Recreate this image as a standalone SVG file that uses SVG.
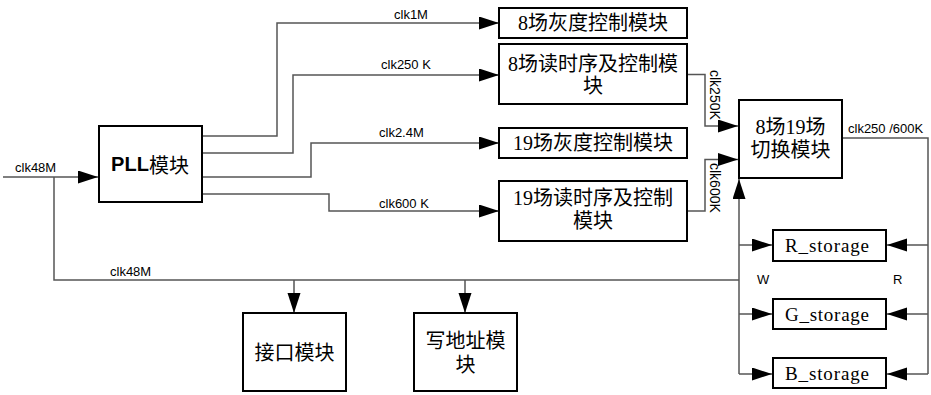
<svg xmlns="http://www.w3.org/2000/svg" width="931" height="395" viewBox="0 0 931 395">
<defs>
<marker id="arr" markerUnits="userSpaceOnUse" markerWidth="21" markerHeight="14" refX="20" refY="6.5" orient="auto">
<path d="M0,0 L20,6.5 L0,13 z" fill="#000"/>
</marker>
<style>
.box{fill:#fff;stroke:#000;stroke-width:2}
.ln{fill:none;stroke:#555;stroke-width:1.5}
.a{marker-end:url(#arr)}
.lbl{font-family:"Liberation Sans",Arial,sans-serif;font-size:13px;fill:#000}
.cn{font-family:"Liberation Serif","Noto Sans CJK SC",serif;font-size:20px;fill:#000;text-anchor:middle;dominant-baseline:central}
.st{font-family:"Liberation Serif",serif;font-size:19px;fill:#000}
</style>
</defs>
<rect width="931" height="395" fill="#fff"/>
<g id="connectors">
<path class="ln a" d="M3,177 H98"/>
<path class="ln a" d="M202,136 H277 V23 H499"/>
<path class="ln a" d="M202,153 H293 V75 H499"/>
<path class="ln a" d="M202,177 H311 V143 H499"/>
<path class="ln a" d="M202,194 H329 V211 H499"/>
<path class="ln a" d="M687,74.5 H705 V126 H738"/>
<path class="ln a" d="M687,211 H705 V159.5 H738"/>
<path class="ln" d="M54,177 V280 H739"/>
<path class="ln a" d="M294,280 V313"/>
<path class="ln a" d="M465,280 V313"/>
<path class="ln a" d="M739,374 V179"/>
<path class="ln a" d="M739,245 H772"/>
<path class="ln a" d="M739,314 H772"/>
<path class="ln a" d="M739,374 H772"/>
<path class="ln" d="M842,138 H928 V374"/>
<path class="ln a" d="M928,245 H887"/>
<path class="ln a" d="M928,314 H887"/>
<path class="ln a" d="M928,374 H887"/>
<text class="lbl" x="15" y="172">clk48M</text>
<text class="lbl" x="394" y="19">clk1M</text>
<text class="lbl" x="381" y="69">clk250 K</text>
<text class="lbl" x="379" y="137">clk2.4M</text>
<text class="lbl" x="379" y="208">clk600 K</text>
<text class="lbl" x="110" y="276">clk48M</text>
<text class="lbl" x="848" y="133">clk250 /600K</text>
<text class="lbl" x="757" y="284">W</text>
<text class="lbl" x="893" y="284">R</text>
<text class="lbl" transform="translate(710,70) rotate(90)" style="font-size:14px">clk250K</text>
<text class="lbl" transform="translate(710,163) rotate(90)" style="font-size:14px">clk600K</text>
</g>
<g id="pll">
<rect class="box" x="99" y="126" width="103" height="76"/>
<text x="150" y="164" dominant-baseline="central" text-anchor="middle" style="font-size:20px"><tspan font-family="Liberation Sans,Arial,sans-serif" font-weight="bold">PLL</tspan><tspan font-family="Noto Sans CJK SC,sans-serif">模块</tspan></text>
</g>
<g id="gray8">
<rect class="box" x="499" y="8" width="188" height="30"/>
<text class="cn" x="593" y="23">8场灰度控制模块</text>
</g>
<g id="read8">
<rect class="box" x="499" y="44" width="188" height="60"/>
<text class="cn" x="593" y="64">8场读时序及控制模</text>
<text class="cn" x="593" y="86">块</text>
</g>
<g id="gray19">
<rect class="box" x="499" y="128" width="188" height="30"/>
<text class="cn" x="593" y="143">19场灰度控制模块</text>
</g>
<g id="read19">
<rect class="box" x="499" y="181" width="188" height="60"/>
<text class="cn" x="593" y="198">19场读时序及控制</text>
<text class="cn" x="593" y="221">模块</text>
</g>
<g id="switch">
<rect class="box" x="739" y="100" width="103" height="78"/>
<text class="cn" x="790.5" y="127">8场19场</text>
<text class="cn" x="790.5" y="150">切换模块</text>
</g>
<g id="r_storage">
<rect class="box" x="773" y="230" width="113" height="31"/>
<text class="st" x="785" y="252" textLength="84" lengthAdjust="spacing">R_storage</text>
</g>
<g id="g_storage">
<rect class="box" x="773" y="299" width="113" height="30"/>
<text class="st" x="785" y="321" textLength="84" lengthAdjust="spacing">G_storage</text>
</g>
<g id="b_storage">
<rect class="box" x="773" y="358" width="113" height="30"/>
<text class="st" x="785" y="380" textLength="84" lengthAdjust="spacing">B_storage</text>
</g>
<g id="interface">
<rect class="box" x="243" y="313" width="103" height="78"/>
<text class="cn" x="294.5" y="353">接口模块</text>
</g>
<g id="wraddr">
<rect class="box" x="414" y="313" width="103" height="78"/>
<text class="cn" x="465.5" y="341">写地址模</text>
<text class="cn" x="465.5" y="365">块</text>
</g>
</svg>
